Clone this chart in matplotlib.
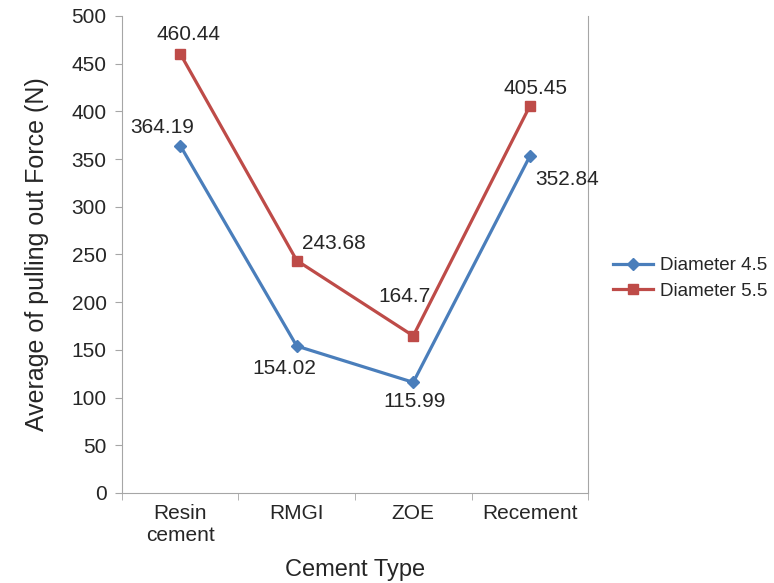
import numpy as np
import matplotlib.pyplot as plt

plt.rcParams['font.family'] = ['Liberation Sans', 'DejaVu Sans']

categories = ['Resin\ncement', 'RMGI', 'ZOE', 'Recement']
d45 = [364.19, 154.02, 115.99, 352.84]
d55 = [460.44, 243.68, 164.7, 405.45]

# label offsets in points (dx, dy) for each point
off45 = [(-13, 13), (-9, -16), (1, -14), (27, -17)]
off55 = [(6, 14), (27, 12), (-6, 28), (4, 13)]

blue = '#4a7ebb'
red = '#be4b48'
grey = '#a6a6a6'
txt = '#262626'

fig = plt.figure(figsize=(7.74, 5.83), dpi=100)
ax = fig.add_axes([0.1576, 0.1544, 0.6021, 0.8182])

x = np.arange(len(categories))
ax.plot(x, d45, color=blue, lw=2.3, marker='D', ms=6, label='Diameter 4.5')
ax.plot(x, d55, color=red, lw=2.3, marker='s', ms=7, label='Diameter 5.5')

for xi, v, (dx, dy) in zip(x, d45, off45):
    ax.annotate(f'{v:g}', (xi, v), xytext=(dx, dy), textcoords='offset points',
                ha='center', va='center', fontsize=15, color=txt)
for xi, v, (dx, dy) in zip(x, d55, off55):
    ax.annotate(f'{v:g}', (xi, v), xytext=(dx, dy), textcoords='offset points',
                ha='center', va='center', fontsize=15, color=txt)

ax.set_xlim(-0.5, 3.5)
ax.set_ylim(0, 500)
ax.set_yticks(np.arange(0, 501, 50))
ax.set_xticks(x)
ax.set_xticklabels(categories)
ax.set_xticks(np.arange(-0.5, 3.6, 1), minor=True)
ax.tick_params(axis='x', which='major', length=0, pad=8, labelsize=15, labelcolor=txt)
ax.tick_params(axis='x', which='minor', length=5, color=grey)
ax.tick_params(axis='y', length=5, color=grey, labelsize=15, labelcolor=txt, pad=6)

for side in ['left', 'bottom', 'right']:
    ax.spines[side].set_color(grey)
ax.spines['top'].set_visible(False)

ax.set_xlabel('Cement Type', fontsize=17, labelpad=10, color=txt)
ax.set_ylabel('Average of pulling out Force (N)', fontsize=18, labelpad=16, color=txt)

ax.legend(loc='center left', bbox_to_anchor=(1.054, 0.45), frameon=False,
          borderaxespad=0, borderpad=0, fontsize=13.5, handlelength=2.1,
          handletextpad=0.4, labelspacing=0.45, labelcolor=txt)

fig.savefig('out.png', dpi=100)
